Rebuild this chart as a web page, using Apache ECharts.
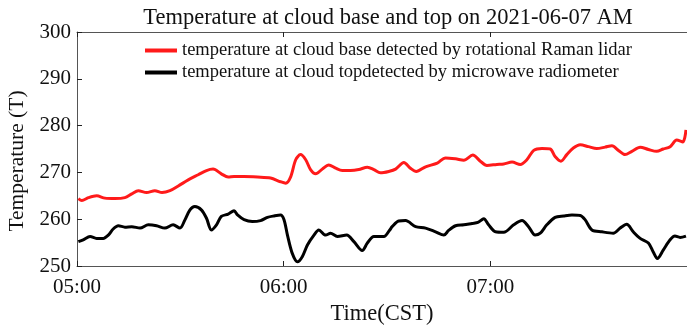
<!DOCTYPE html>
<html><head><meta charset="utf-8">
<script src="https://cdn.jsdelivr.net/npm/echarts@6/dist/echarts.min.js"></script>
<style>html,body{margin:0;padding:0;background:#fff}#c{width:687px;height:327px}</style>
</head><body><div id="c"></div>
<script>
const titleText = 'Temperature at cloud base and top on 2021-06-07 AM';
const baseName = 'temperature at cloud base detected by rotational Raman lidar';
const topName = 'temperature at cloud topdetected by microwave radiometer';
// minutes after 05:00
const xTickLabels = ['05:00', '06:00', '07:00'];
const baseMinutes = [0.4,1.4,3.3,5.7,8.1,11.0,13.9,15.9,17.8,20.2,22.6,24.7,27.0,29.4,32.3,35.2,37.6,39.5,41.9,43.9,45.6,48.5,52.4,56.2,59.1,60.6,62.0,63.5,64.9,66.4,67.8,69.3,71.2,73.1,75.1,77.0,79.4,81.8,84.3,86.2,88.1,90.5,92.5,94.9,96.8,98.5,101.2,104.6,107.0,109.9,112.3,114.9,117.1,119.0,121.9,123.9,126.3,128.7,130.6,132.6,135.0,137.4,138.8,140.5,142.2,144.1,146.1,148.5,150.9,153.3,155.3,157.2,159.1,161.1,163.5,165.9,168.3,170.2,172.2,174.1,175.9,176.8];
const baseTemps = [264.4,264.0,264.6,265.0,264.5,264.4,264.6,265.4,266.1,265.7,266.1,265.7,266.1,267.1,268.4,269.5,270.4,270.7,269.7,269.0,269.1,269.1,269.0,268.8,268.0,267.7,269.0,272.7,273.8,272.7,270.6,269.7,270.7,271.6,270.9,270.4,270.4,270.6,271.1,270.6,269.9,270.2,270.7,272.1,270.9,270.2,271.2,272.0,273.1,272.9,272.6,273.7,272.4,271.5,271.7,271.8,272.2,271.7,272.7,274.7,275.1,275.0,273.4,272.4,273.8,275.2,275.9,275.5,275.1,275.4,275.7,274.7,273.8,274.5,275.4,274.9,274.5,275.0,275.5,276.9,276.5,279.1];
const topMinutes = [0.4,1.8,3.8,5.7,7.6,9.1,10.5,12.0,13.9,15.9,18.3,20.7,23.1,25.5,27.9,29.9,31.3,32.8,34.2,36.1,37.6,39.0,40.5,41.9,43.9,45.6,46.6,48.5,50.9,53.3,55.3,57.2,59.1,60.1,61.1,62.5,64.0,65.4,66.9,68.8,70.2,72.2,73.6,75.6,78.3,80.4,82.8,84.3,86.2,89.1,90.8,91.5,93.4,95.4,98.3,101.2,104.1,106.5,107.9,109.9,112.3,114.7,116.4,118.1,119.5,121.5,123.9,126.8,129.2,131.1,133.0,134.5,136.4,138.8,141.3,143.7,146.1,147.5,149.5,152.4,155.7,157.7,159.6,161.5,163.5,165.9,167.3,168.5,170.2,172.2,173.6,175.1,176.8];
const topTemps = [255.2,255.6,256.3,255.9,255.9,256.6,257.9,258.6,258.3,258.4,258.1,258.8,258.6,258.1,258.8,258.1,259.8,262.0,262.7,262.0,260.2,257.7,258.8,260.6,261.1,261.8,260.9,259.9,259.5,259.7,260.4,260.7,260.9,259.9,256.6,252.7,250.9,252.0,254.5,256.6,257.7,256.6,257.0,256.3,256.6,255.2,253.3,254.9,256.3,256.3,257.7,258.4,259.6,259.7,258.4,258.1,257.3,256.6,257.6,258.6,258.8,259.1,259.3,260.1,258.8,257.3,257.2,258.8,259.7,258.4,256.6,257.0,258.8,260.4,260.7,260.9,260.8,259.9,257.7,257.3,257.0,258.1,258.9,257.3,255.9,254.9,253.0,251.6,253.4,255.6,256.4,256.1,256.4];
const yMin = 250, yMax = 300, yStep = 10;

const pair = (xs, ys) => xs.map((x, i) => [x, ys[i]]);
const fmtTime = v => { const i = Math.round(v / 60); return xTickLabels[i] !== undefined ? xTickLabels[i] : ''; };
const serif = 'Liberation Serif';
const axisCol = '#555';

const chart = echarts.init(document.getElementById('c'), null, {renderer: 'canvas'});
chart.setOption({
  animation: false,
  backgroundColor: '#fff',
  textStyle: {fontFamily: serif},
  title: {
    text: titleText, left: 383, top: 2, textAlign: 'center',
    textStyle: {fontFamily: serif, fontSize: 22.5, fontWeight: 'normal', color: '#111'}
  },
  legend: {
    orient: 'vertical', left: 140, top: 36, itemWidth: 32, itemHeight: 4, itemGap: 3,
    icon: 'rect',
    textStyle: {fontFamily: serif, fontSize: 18.5, color: '#111', lineHeight: 19},
    data: [baseName, topName]
  },
  grid: {left: 77, right: 0, top: 32, bottom: 61, containLabel: false, outerBoundsMode: 'none'},
  xAxis: [{
    type: 'value', min: 0, max: 177.1, interval: 60,
    name: 'Time(CST)', nameLocation: 'middle', nameGap: 36,
    nameTextStyle: {fontFamily: serif, fontSize: 22.5, color: '#111'},
    axisLine: {show: true, lineStyle: {color: axisCol, width: 1}},
    axisTick: {show: true, inside: true, length: 5, lineStyle: {color: '#222'}},
    axisLabel: {formatter: fmtTime, fontFamily: serif, fontSize: 21, color: '#111', margin: 11, showMaxLabel: false},
    splitLine: {show: false}
  }, {
    type: 'value', position: 'top', min: 0, max: 177.1, interval: 60,
    axisLine: {show: true, lineStyle: {color: axisCol, width: 1}},
    axisTick: {show: true, inside: true, length: 5, lineStyle: {color: '#222'}},
    axisLabel: {show: false}, splitLine: {show: false}
  }],
  yAxis: {
    type: 'value', min: yMin, max: yMax, interval: yStep,
    name: 'Temperature (T)', nameLocation: 'middle', nameGap: 47,
    nameTextStyle: {fontFamily: serif, fontSize: 21.5, color: '#111', padding: [0, 24, 0, 0]},
    axisLine: {show: true, lineStyle: {color: axisCol, width: 1}},
    axisTick: {show: true, inside: true, length: 5, lineStyle: {color: '#222'}},
    axisLabel: {fontFamily: serif, fontSize: 21, color: '#111', margin: 6},
    splitLine: {show: false}
  },
  series: [{
    name: baseName, type: 'line', data: pair(baseMinutes, baseTemps),
    showSymbol: false, smooth: 0.3, color: '#ff1a1a',
    lineStyle: {width: 3, color: '#ff1a1a'}
  }, {
    name: topName, type: 'line', data: pair(topMinutes, topTemps),
    showSymbol: false, smooth: 0.3, color: '#000',
    lineStyle: {width: 3, color: '#000'}
  }]
});
</script></body></html>
